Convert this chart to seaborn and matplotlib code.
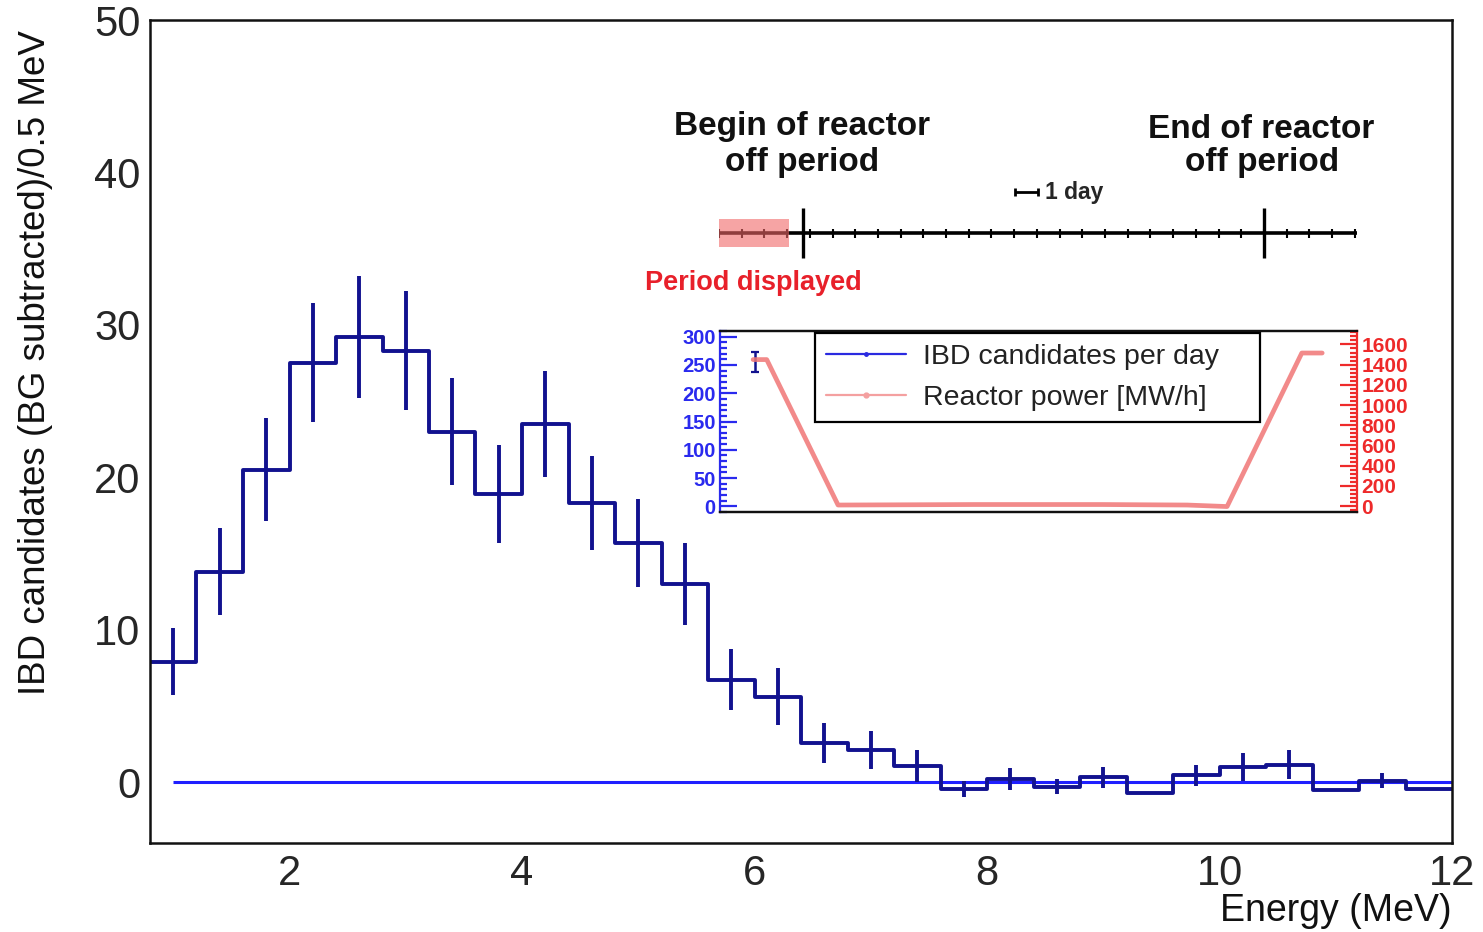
import numpy as np
import pandas as pd
import matplotlib
matplotlib.use("Agg")
import matplotlib.pyplot as plt
import seaborn as sns
from matplotlib import font_manager
from matplotlib.lines import Line2D
from matplotlib.patches import Rectangle
from matplotlib.ticker import MultipleLocator

# ---------------- data ----------------
bin_edges = [0.8, 1.2, 1.6, 2.0, 2.4, 2.8, 3.2, 3.6, 4.0, 4.4, 4.8, 5.2, 5.6, 6.0,
             6.4, 6.8, 7.2, 7.6, 8.0, 8.4, 8.8, 9.2, 9.6, 10.0, 10.4, 10.8, 11.2,
             11.6, 12.0]
energy_centers = [1.0, 1.4, 1.8, 2.2, 2.6, 3.0, 3.4, 3.8, 4.2, 4.6, 5.0, 5.4, 5.8,
                  6.2, 6.6, 7.0, 7.4, 7.8, 8.2, 8.6, 9.0, 9.4, 9.8, 10.2, 10.6,
                  11.0, 11.4, 11.8]
ibd_counts = [7.9, 13.8, 20.5, 27.5, 29.2, 28.3, 23.0, 18.9, 23.5, 18.3, 15.7,
              13.0, 6.7, 5.6, 2.55, 2.1, 1.05, -0.45, 0.2, -0.3, 0.3, -0.7, 0.45,
              1.0, 1.15, -0.5, 0.1, -0.45]
ibd_errors = [2.2, 2.85, 3.4, 3.9, 4.0, 3.9, 3.5, 3.2, 3.5, 3.1, 2.9, 2.7, 2.0,
              1.85, 1.3, 1.25, 1.05, 0.5, 0.7, 0.5, 0.7, 0.0, 0.7, 0.9, 0.95,
              0.0, 0.5, 0.0]

# inset: hours within displayed period
inset_hours = [3.9, 5.5, 13.9, 30.0, 45.0, 55.0, 59.7, 68.5, 70.9]
reactor_power = [1450, 1450, 10, 15, 15, 10, -5, 1515, 1515]
ibd_day_hour = [4.1]
ibd_day_value = [255]
ibd_day_error = [17]

# timeline (days)
timeline_days = list(range(29))
timeline_end = 28.1
begin_day = 3.7
end_day = 24.0
displayed_span = (0.0, 3.1)
scale_bar = (13.04, 14.05)

# ---------------- style ----------------
sns.set_style("white")
avail = {f.name for f in font_manager.fontManager.ttflist}
NARROW = "Liberation Sans Narrow" if "Liberation Sans Narrow" in avail else "Liberation Sans"
plt.rcParams["font.family"] = ["Liberation Sans", "DejaVu Sans"]

NAVY = "#12128f"
BLUE = "#1f1fff"
PINK = "#f07676"
RED = "#e8202a"

W, H = 1483, 932
fig = plt.figure(figsize=(W / 100, H / 100), dpi=100)
fig.patch.set_facecolor("white")


def rect(l, t, r, b):
    return [l / W, 1 - b / H, (r - l) / W, (b - t) / H]


# ---------------- main axes ----------------
ax = fig.add_axes(rect(150, 20, 1452, 843))
df = pd.DataFrame({"energy": energy_centers, "count": ibd_counts})
sns.histplot(data=df, x="energy", weights="count", bins=bin_edges,
             element="step", fill=False, color=NAVY, linewidth=2.8, ax=ax)

err = np.array(ibd_errors)
cen = np.array(energy_centers)
cnt = np.array(ibd_counts)
m = err > 0
ax.vlines(cen[m], cnt[m] - err[m], cnt[m] + err[m], color=NAVY, linewidth=2.8)
ax.hlines(0, 1.0, 12.0, color=BLUE, linewidth=2.2, zorder=1)

ax.set_xlim(0.8, 12.0)
ax.set_ylim(-4, 50)
ax.xaxis.set_major_locator(MultipleLocator(2))
ax.xaxis.set_minor_locator(MultipleLocator(0.5))
ax.yaxis.set_major_locator(MultipleLocator(10))
ax.yaxis.set_minor_locator(MultipleLocator(2))
ax.tick_params(which="both", direction="in", top=False, right=False,
               width=1.4, color="#222222")
ax.tick_params(axis="y", which="major", length=28, labelsize=30, pad=7)
ax.tick_params(axis="y", which="minor", length=14)
ax.tick_params(axis="x", which="major", length=17, labelsize=30, pad=8)
ax.tick_params(axis="x", which="minor", length=8)
for lab in ax.get_xticklabels():
    lab.set_family(NARROW)
for sp in ax.spines.values():
    sp.set_linewidth(1.8)
    sp.set_color("#111111")
ax.set_xlabel("")
ax.set_ylabel("")

fig.text(36 / W, 1 - 30 / H, "IBD candidates (BG subtracted)/0.5 MeV",
         rotation=90, ha="center", va="top", fontsize=26.5, family=NARROW,
         color="#111111")
fig.text(1452 / W, 1 - 911 / H, "Energy (MeV)", ha="right", va="center",
         fontsize=27, family=NARROW, color="#111111")

# ---------------- timeline ----------------
tl = fig.add_axes(rect(719, 100, 1357, 300))
tl.set_xlim(0, timeline_end)
tl.set_ylim(-67, 133)
tl.axis("off")
tl.hlines(0, 0, timeline_end, color="black", linewidth=2.6)
tl.vlines(timeline_days, -4.5, 4.5, color="black", linewidth=1.5)
tl.vlines([begin_day, end_day], -25, 25, color="black", linewidth=2.4)
tl.add_patch(Rectangle((displayed_span[0], -14), displayed_span[1] - displayed_span[0],
                       28, facecolor="#f06868", alpha=0.6, edgecolor="none", zorder=5))
tl.hlines(41, scale_bar[0], scale_bar[1], color="black", linewidth=2.0)
tl.vlines(list(scale_bar), 37, 45, color="black", linewidth=2.0)
tl.text(scale_bar[1] + 0.3, 41, "1 day", ha="left", va="center",
        fontsize=16.5, fontweight="bold", family=NARROW)
for txt, xx, yy in [("Begin of reactor", begin_day - 0.04, 106),
                    ("off period", begin_day - 0.04, 71),
                    ("End of reactor", end_day - 0.1, 104),
                    ("off period", end_day - 0.1, 71)]:
    tl.text(xx, yy, txt, ha="center", va="center", fontsize=24,
            fontweight="bold", family=NARROW, color="#111111")
tl.text(1.5, -50, "Period displayed", ha="center", va="center",
        fontsize=19.5, fontweight="bold", family=NARROW, color=RED)

# ---------------- inset ----------------
ax2 = fig.add_axes(rect(720, 331, 1357, 512))
ax2.set_xlim(0, 75)
ax2.set_ylim(-10, 310)
ax2.set_xticks([])
ax2.yaxis.set_major_locator(MultipleLocator(50))
ax2.yaxis.set_minor_locator(MultipleLocator(10))
ax2.tick_params(axis="y", which="both", direction="in", color="#2a2aee",
                labelcolor="#2a2aee", width=1.6)
ax2.tick_params(axis="y", which="major", length=12, labelsize=14.5, pad=3)
ax2.tick_params(axis="y", which="minor", length=5)
for lab in ax2.get_yticklabels():
    lab.set_fontweight("bold")
ax2.errorbar(ibd_day_hour, ibd_day_value, yerr=ibd_day_error, fmt="none",
             ecolor=NAVY, elinewidth=1.8, capsize=3, capthick=1.6)

ax3 = ax2.twinx()
ax3.set_ylim(-59, 1733)
ax3.yaxis.set_major_locator(MultipleLocator(200))
ax3.yaxis.set_minor_locator(MultipleLocator(40))
ax3.tick_params(axis="y", which="both", direction="in", color="#ee2a2a",
                labelcolor="#ee2a2a", width=1.6)
ax3.tick_params(axis="y", which="major", length=12, labelsize=15, pad=3)
ax3.tick_params(axis="y", which="minor", length=5)
for lab in ax3.get_yticklabels():
    lab.set_fontweight("bold")
sns.lineplot(x=inset_hours, y=reactor_power, ax=ax3, color=PINK,
             linewidth=3.4, alpha=0.85, legend=False)
ax3.set_ylabel("")

for a in (ax2, ax3):
    for name, sp in a.spines.items():
        sp.set_linewidth(1.6)
        sp.set_color("#111111")
ax2.spines["left"].set_color("#2a2aee")
ax3.spines["left"].set_visible(False)
ax3.spines["right"].set_color("#ee2a2a")
ax2.spines["right"].set_visible(False)

handles = [Line2D([], [], color="#2a2ae0", linewidth=1.6, marker=".", markersize=5),
           Line2D([], [], color="#f4a0a0", linewidth=1.6, marker=".", markersize=7)]
labels = ["IBD candidates per day", "Reactor power [MW/h]"]
leg = ax3.legend(handles, labels, loc="upper left",
                 bbox_to_anchor=(0.149, 0.989, 0.699, 0.0), mode="expand",
                 borderaxespad=0, fontsize=20.5, frameon=True, fancybox=False,
                 framealpha=1, edgecolor="black", borderpad=0.4,
                 labelspacing=0.5, handlelength=2.8, handletextpad=0.6)
leg.get_frame().set_linewidth(1.6)
for t in leg.get_texts():
    t.set_color("#222222")

fig.savefig("out.png", dpi=100, facecolor="white")
